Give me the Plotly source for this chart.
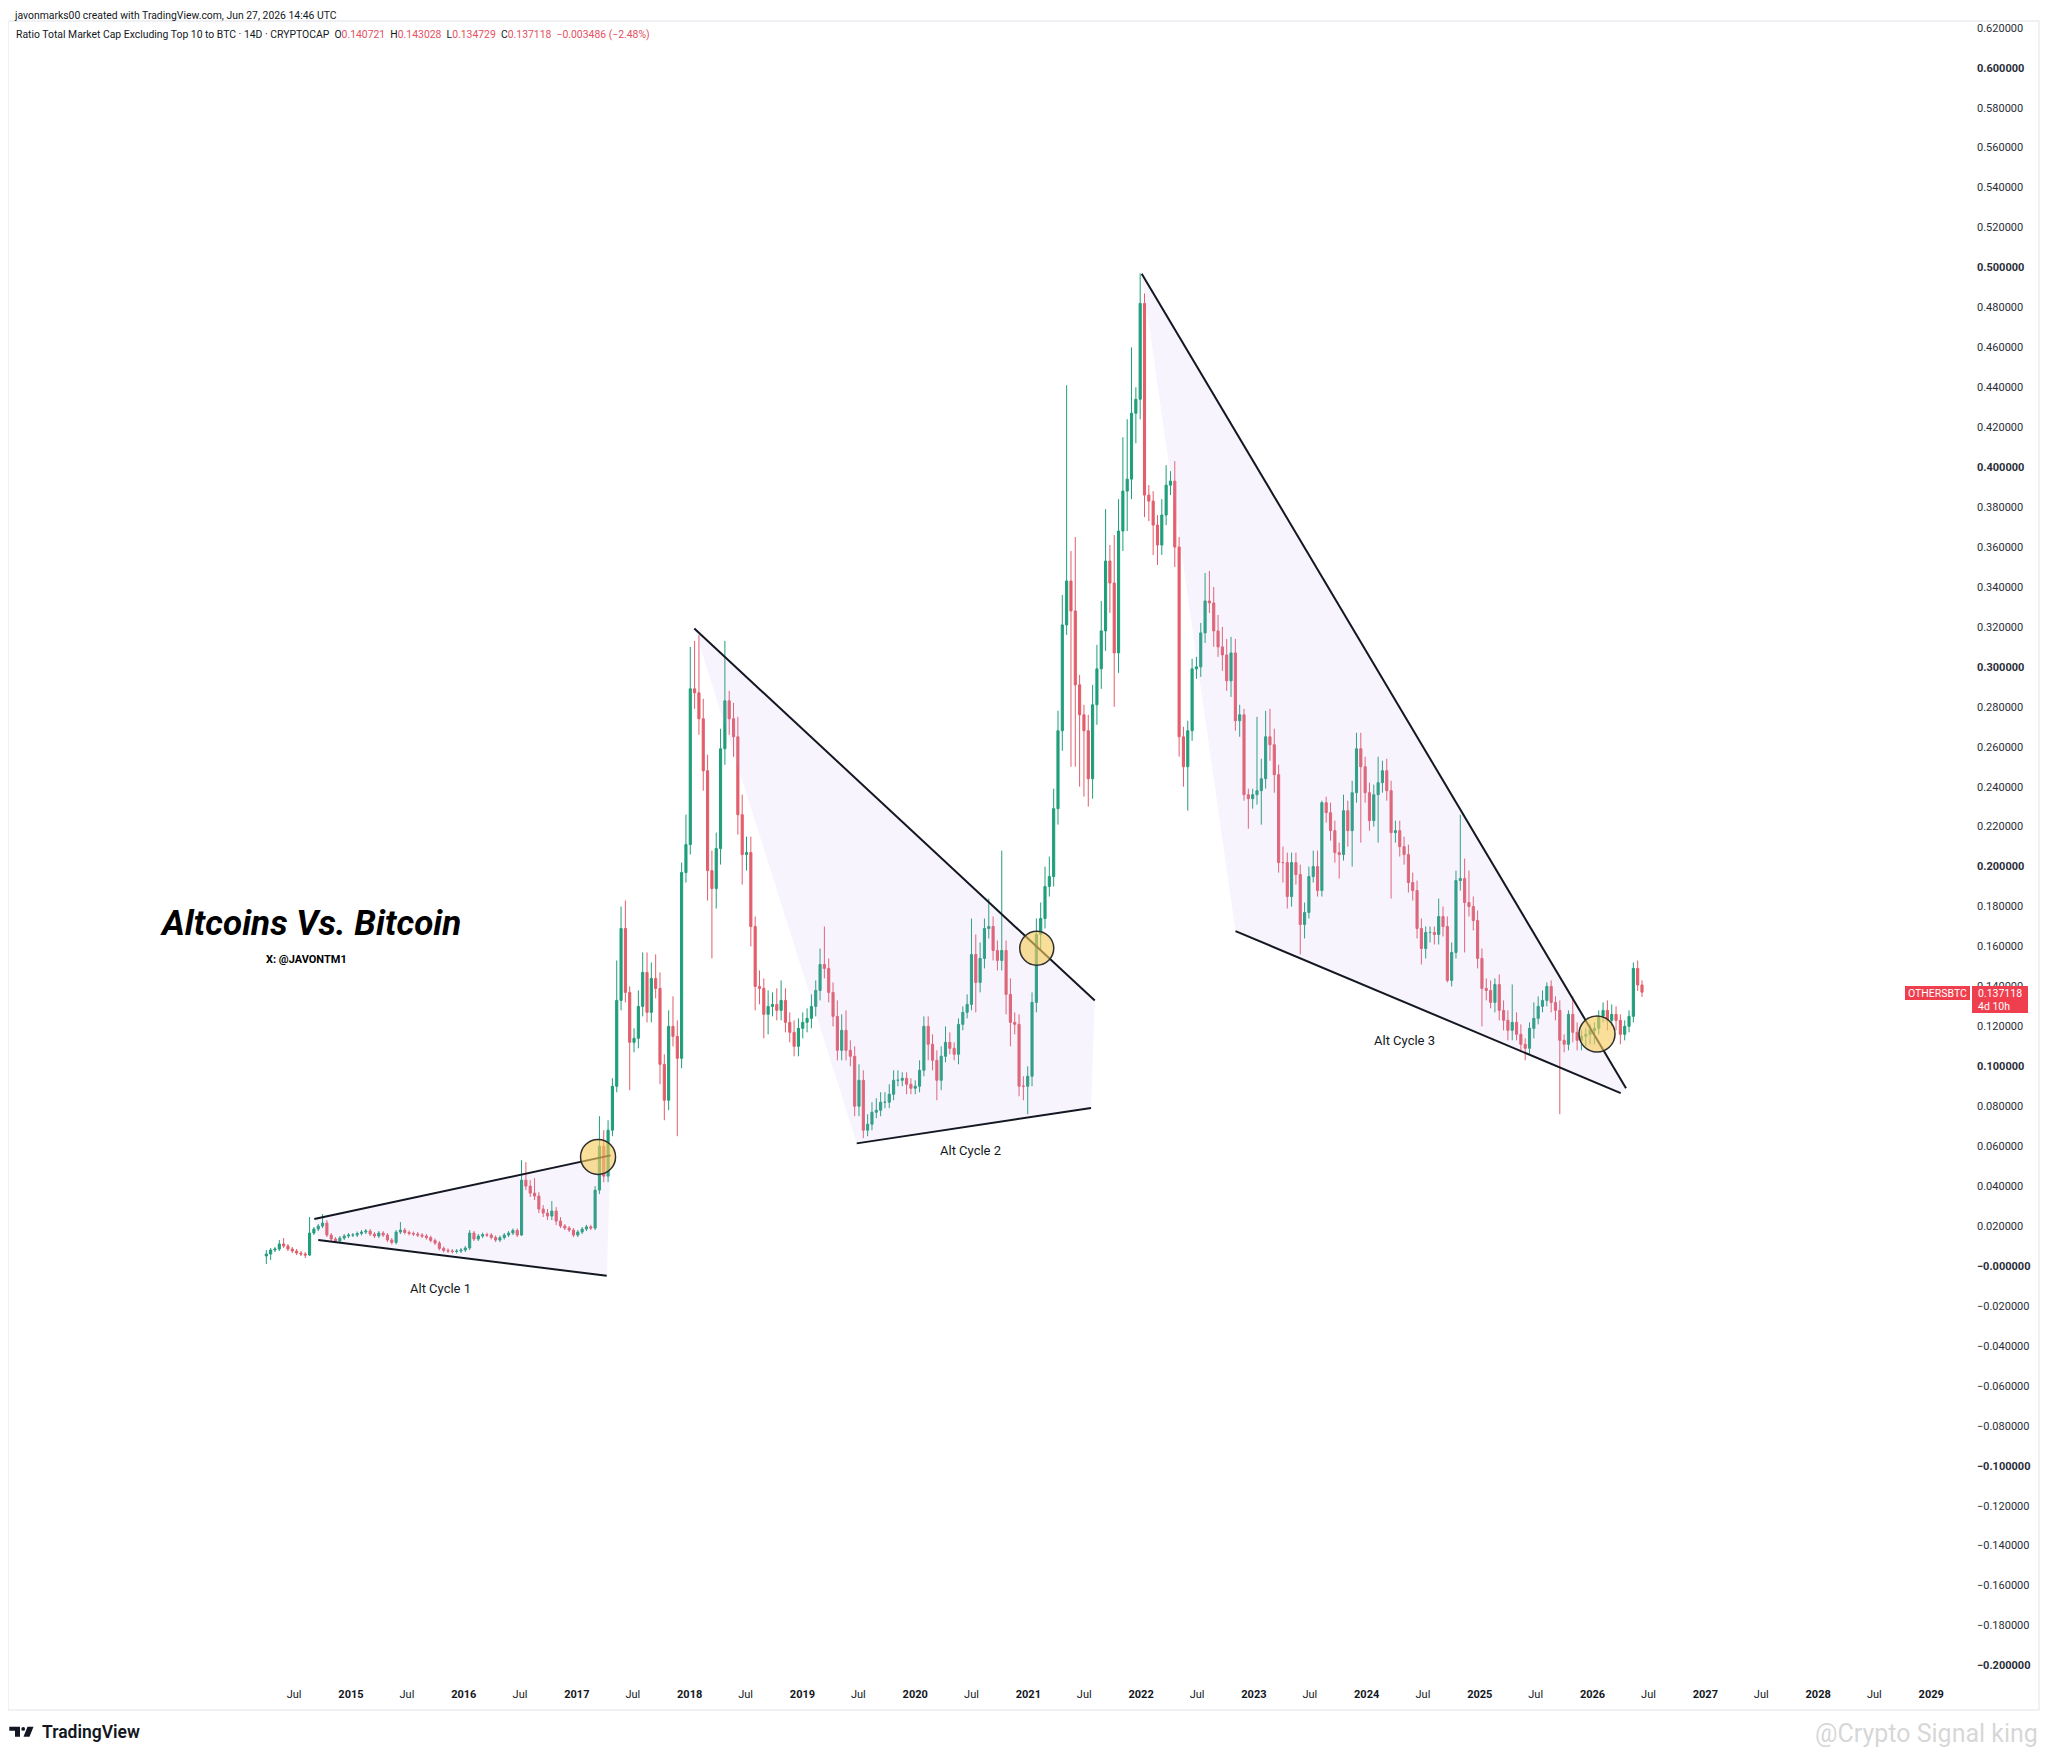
import plotly.graph_objects as go
import pandas as pd

# ---------------- data ----------------
FIRST_DATE = "2014-04-02"      # first 14D candle
FIRST_OPEN = 0.005
CLOSE = [
    .006, .008, .0085, .011, .010, .0085, .0075, .0065, .006, .0055,
    .0165, .0185, .020, .0215, .0155, .0135, .0125, .014, .015, .0155,
    .0155, .0163, .017, .0175, .016, .015, .0165, .0155, .013, .0118,
    .017, .018, .0168, .0163, .016, .0155, .015, .0142, .0128, .0115,
    .0088, .0078, .0075, .0073, .0075, .008, .009, .0165, .0135, .015,
    .0157, .0155, .0143, .013, .0142, .0155, .0165, .0178, .0155, .043,
    .040, .0365, .035, .0285, .0265, .025, .0275, .0225, .020, .019,
    .018, .0155, .017, .0185, .0196, .019, .038, .060, .045, .068,
    .090, .133, .169, .137, .112, .114, .130, .147, .127, .144,
    .139, .101, .083, .120, .115, .104, .197, .211, .289, .287,
    .274, .248, .198, .189, .209, .259, .283, .274, .265, .226,
    .206, .207, .170, .140, .139, .126, .130, .131, .128, .133,
    .122, .117, .110, .119, .122, .124, .130, .138, .151, .149,
    .137, .125, .108, .118, .108, .105, .080, .093, .068, .071,
    .077, .078, .082, .082, .086, .093, .093, .094, .091, .089,
    .090, .098, .120, .111, .103, .093, .105, .112, .109, .106,
    .121, .127, .131, .156, .142, .154, .169, .170, .158, .153,
    .158, .136, .122, .121, .090, .090, .095, .132, .166, .174,
    .190, .195, .229, .268, .321, .343, .328, .291, .276, .268,
    .244, .281, .299, .318, .353, .342, .307, .368, .388, .394,
    .427, .434, .482, .386, .383, .371, .361, .376, .391, .393,
    .360, .265, .250, .268, .299, .300, .317, .333, .332, .318,
    .310, .306, .293, .307, .273, .276, .236, .234, .236, .238,
    .244, .265, .261, .246, .202, .202, .185, .202, .196, .171,
    .177, .195, .200, .188, .232, .227, .218, .207, .206, .228,
    .218, .237, .259, .250, .237, .223, .236, .242, .248, .238,
    .217, .218, .210, .206, .192, .188, .169, .159, .167, .167,
    .166, .175, .170, .143, .157, .193, .194, .182, .180, .173,
    .154, .139, .138, .132, .141, .128, .123, .118, .122, .116,
    .111, .109, .119, .124, .130, .133, .140, .132, .128, .113,
    .111, .126, .117, .113, .115, .116, .118, .119, .125, .128,
    .123, .126, .123, .116, .120, .125, .149, .140721, .137118,
]
# wick lengths beyond the candle body, in units of 0.001
UP_WICK = [
    2, 1, 1, 2, 3, 1, 1, 1, 1, 1,
    8, 1, 1, 4.5, 1.5, 1, 1, 1, 1, 1,
    1, 1, 1, 1, 1, 1, 1, 1, 1, 1,
    1, 4, 1, 1, 1, 1, 1, 1, 1, 1,
    1, 1, 1, 1, 1, 1, 1, 1.5, 1, 1,
    1, 1, 1, 1, 1, 1, 1, 1, 1, 10,
    9, 3, 7.5, 2, 2, 2, 5, 2, 2, 1,
    1, 1, 1, 1, 1, 1, 2, 15, 8, 5,
    4, 20, 11, 14, 3, 5, 8, 10, 10, 8,
    12, 8, 5, 8, 15, 8, 5, 15, 21, 24,
    29, 10, 8, 10, 8, 10, 30, 5, 8, 10,
    10, 8, 8, 5, 8, 5, 8, 6, 8, 10,
    6, 5, 6, 5, 5, 5, 6, 5, 8, 19,
    5, 5, 8, 8, 10, 5, 5, 8, 5, 5,
    5, 6, 5, 5, 5, 5, 5, 3, 3, 3,
    3, 5, 5, 5, 5, 5, 5, 8, 5, 3,
    3, 3, 5, 18, 10, 8, 5, 14, 5, 5,
    50, 5, 8, 5, 5, 5, 5, 5, 8, 8,
    10, 10, 10, 10, 15, 98, 15, 37, 5, 5,
    8, 10, 12, 15, 26, 8, 24, 16, 27, 30,
    33, 6, 15, 5, 5, 5, 5, 8, 10, 5,
    10, 5, 5, 5, 5, 5, 5, 14, 15, 8,
    8, 10, 8, 8, 7, 5, 3, 3, 3, 37,
    10, 13, 14, 8, 5, 8, 5, 5, 5, 5,
    5, 5, 8, 8, 1, 3, 5, 5, 5, 8,
    5, 6, 8, 8, 5, 5, 5, 13, 5, 6,
    5, 5, 5, 5, 5, 5, 5, 5, 3, 3,
    3, 9, 5, 5, 5, 5, 32, 10, 16, 5,
    5, 5, 5, 5, 3, 5, 5, 5, 19, 5,
    5, 3, 3, 8, 5, 5, 2, 3, 3, 5,
    3, 2, 9, 5, 3, 3, 3, 3, 3, 4,
    5, 5, 4, 3, 3, 3, 3, 4, 2.307,
]
DN_WICK = [
    4, 3, 1, 1, 1, 1, 1, 1, 1, 1.5,
    0.5, 1, 1, 1, 1, 1, 1, 1, 1, 1,
    1, 1, 1, 1, 1, 1, 1, 1, 1, 1,
    1, 1, 1, 1, 1, 1, 1, 1, 1, 1,
    1, 1, 1, 1, 1, 1, 1, 1, 1, 1,
    1, 1, 1, 1, 1, 1, 1, 1, 1, 0.5,
    2, 2, 2, 2, 2, 2, 2, 2, 1, 1,
    1, 1, 1, 1, 1, 1, 1, 2, 3, 3,
    3, 3, 5, 5, 24, 5, 5, 5, 5, 5,
    5, 10, 10, 5, 5, 39, 5, 5, 5, 8,
    8, 10, 15, 35, 10, 8, 8, 8, 10, 10,
    15, 8, 10, 12, 8, 12, 10, 5, 5, 5,
    5, 5, 5, 5, 5, 5, 5, 5, 5, 5,
    5, 5, 5, 5, 5, 5, 5, 5, 4, 3,
    3, 3, 3, 3, 3, 3, 3, 3, 5, 3,
    3, 3, 3, 8, 5, 10, 5, 3, 3, 3,
    5, 3, 3, 3, 15, 5, 5, 5, 5, 5,
    5, 10, 12, 5, 5, 7, 14, 5, 5, 8,
    5, 5, 5, 8, 10, 5, 78, 41, 36, 33,
    14, 10, 10, 10, 10, 15, 27, 10, 10, 20,
    10, 15, 10, 11, 10, 15, 10, 5, 5, 5,
    10, 10, 10, 22, 5, 5, 5, 5, 5, 8,
    5, 8, 5, 8, 5, 8, 3, 15, 5, 5,
    17, 5, 8, 9, 5, 10, 6, 5, 5, 15,
    7, 3, 3, 3, 3, 5, 5, 5, 12, 3,
    8, 18, 5, 38, 5, 5, 3, 24, 5, 5,
    33, 5, 5, 5, 5, 5, 5, 8, 5, 5,
    5, 5, 5, 1, 3, 3, 5, 25, 5, 5,
    5, 19, 5, 3, 5, 5, 5, 5, 5, 3,
    4, 6, 3, 5, 3, 3, 3, 5, 5, 37,
    4, 3, 5, 5, 5, 5, 5, 7, 3, 3,
    5, 3, 5, 5, 3, 3, 3, 3, 2.389,
]

# header values
LAST_O, LAST_H, LAST_L, LAST_C = 0.140721, 0.143028, 0.134729, 0.137118
CHG, CHG_PCT = -0.003486, -2.48
TIME_LEFT = "4d 10h"

# drawings: (fractional year, value)
CYCLE1_UPPER = [(2014.675, 0.0235), (2017.30, 0.0554)]
CYCLE1_LOWER = [(2014.71, 0.0130), (2017.266, -0.0049)]
CYCLE2_UPPER = [(2018.042, 0.3192), (2021.59, 0.1329)]
CYCLE2_LOWER = [(2019.481, 0.0614), (2021.557, 0.0791)]
CYCLE3_UPPER = [(2022.006, 0.4969), (2026.297, 0.0890)]
CYCLE3_LOWER = [(2022.837, 0.1677), (2026.25, 0.0866)]
BREAKOUTS = [(2017.189, 0.0546), (2021.076, 0.1591), (2026.04, 0.1162)]
CYCLE_LABELS = [("Alt Cycle 1", 2015.79, -0.0115),
                ("Alt Cycle 2", 2020.488, 0.0578),
                ("Alt Cycle 3", 2024.33, 0.1127)]
YEARS = list(range(2014, 2030))

# ---------------- geometry helpers ----------------
W, H = 2048, 1757
OFF = 8                      # page body margin of the browser
PL, PR, PT, PB = 8, 1962, 21, 1686   # plot area in reference pixels
V_TOP, V_BOT = 0.6234, -0.2103
X_LEFT, X_RIGHT = 2011.961, 2029.274


def yd(f):
    return (pd.Timestamp("2015-01-01") + pd.to_timedelta((f - 2015) * 365.25, unit="D")).strftime("%Y-%m-%d %H:%M")


def pxx(px):
    return (px - PL) / (PR - PL)


def pyy(py):
    return (PB - py) / (PB - PT)


assert len(CLOSE) == len(UP_WICK) == len(DN_WICK), (len(CLOSE), len(UP_WICK), len(DN_WICK))

dates = pd.date_range(FIRST_DATE, periods=len(CLOSE), freq="14D")
opens = [FIRST_OPEN] + CLOSE[:-1]
highs = [max(o, c) + u / 1000 for o, c, u in zip(opens, CLOSE, UP_WICK)]
lows = [min(o, c) - d / 1000 for o, c, d in zip(opens, CLOSE, DN_WICK)]

GREEN = "#1f9e7a"
RED = "#e35d6a"
INK = "#131722"

fig = go.Figure()

# pattern fills
for up, lo in [(CYCLE1_UPPER, CYCLE1_LOWER), (CYCLE2_UPPER, CYCLE2_LOWER), (CYCLE3_UPPER, CYCLE3_LOWER)]:
    pts = [up[0], up[1], lo[1], lo[0], up[0]]
    fig.add_trace(go.Scatter(
        x=[yd(p[0]) for p in pts], y=[p[1] for p in pts],
        mode="lines", fill="toself", fillcolor="rgba(190,170,240,0.13)",
        line=dict(width=0), hoverinfo="skip"))

fig.add_trace(go.Candlestick(
    x=dates, open=opens, high=highs, low=lows, close=CLOSE,
    increasing=dict(line=dict(color=GREEN, width=1), fillcolor=GREEN),
    decreasing=dict(line=dict(color=RED, width=1), fillcolor=RED),
    whiskerwidth=0, hoverinfo="skip"))

for seg in [CYCLE1_UPPER, CYCLE1_LOWER, CYCLE2_UPPER, CYCLE2_LOWER, CYCLE3_UPPER, CYCLE3_LOWER]:
    fig.add_trace(go.Scatter(
        x=[yd(p[0]) for p in seg], y=[p[1] for p in seg],
        mode="lines", line=dict(color=INK, width=2), hoverinfo="skip"))

shapes = []
radii = [17.5, 17, 18]
for (fx, fv), r in zip(BREAKOUTS, radii):
    shapes.append(dict(type="circle", xref="x", yref="y", xsizemode="pixel", ysizemode="pixel",
                       xanchor=yd(fx), yanchor=fv, x0=-r, x1=r, y0=-r, y1=r,
                       fillcolor="rgba(246,204,92,0.62)", line=dict(color="#2f2f2f", width=1.5),
                       layer="above"))
# chart frame
shapes.append(dict(type="rect", xref="paper", yref="paper", x0=pxx(8), x1=pxx(2039), y0=pyy(1710), y1=pyy(21),
                   line=dict(color="#e0e3eb", width=1), fillcolor="rgba(0,0,0,0)", layer="below"))
# last price boxes
shapes.append(dict(type="rect", xref="paper", yref="paper", x0=pxx(1905), x1=pxx(1970), y0=pyy(1000), y1=pyy(986),
                   line=dict(width=0), fillcolor="#ef3f4f", layer="above"))
shapes.append(dict(type="rect", xref="paper", yref="paper", x0=pxx(1972), x1=pxx(2028), y0=pyy(1013), y1=pyy(986),
                   line=dict(width=0), fillcolor="#ef3f4f", layer="above"))


def ppath(points):
    return "M " + " L ".join(f"{pxx(a):.6f},{pyy(b):.6f}" for a, b in points) + " Z"


# TradingView logo mark (bar + dot + slash)
shapes.append(dict(type="path", xref="paper", yref="paper",
                   path=ppath([(9.3, 1726.7), (20, 1726.7), (20, 1736.7), (15, 1736.7), (15, 1730.7), (9.3, 1730.7)]),
                   fillcolor=INK, line=dict(width=0)))
shapes.append(dict(type="circle", xref="paper", yref="paper",
                   x0=pxx(21.3), x1=pxx(25.1), y0=pyy(1730.8), y1=pyy(1727),
                   fillcolor=INK, line=dict(width=0)))
shapes.append(dict(type="path", xref="paper", yref="paper",
                   path=ppath([(27.5, 1726.7), (33.5, 1726.7), (29.5, 1736.7), (23.5, 1736.7)]),
                   fillcolor=INK, line=dict(width=0)))

ann = []
for txt, fx, fv in CYCLE_LABELS:
    ann.append(dict(x=yd(fx), y=fv, xref="x", yref="y", text=txt, showarrow=False,
                    font=dict(size=13, color=INK, family="Roboto")))
ann.append(dict(x=pxx(310), y=pyy(923), xref="paper", yref="paper", text="<b><i>Altcoins Vs. Bitcoin</i></b>",
                showarrow=False, xanchor="center", yanchor="middle",
                font=dict(size=35, color="#000000", family="Roboto")))
ann.append(dict(x=pxx(306), y=pyy(959), xref="paper", yref="paper", text="<b>X: @JAVONTM1</b>",
                showarrow=False, xanchor="center", yanchor="middle",
                font=dict(size=11, color="#000000", family="Roboto")))
ann.append(dict(x=pxx(12), y=pyy(15), xref="paper", yref="paper",
                text="javonmarks00 created with TradingView.com, Jun 27, 2026 14:46 UTC",
                showarrow=False, xanchor="left", yanchor="middle",
                font=dict(size=10.4, color=INK, family="Roboto")))
rc = "#e4505f"
line2 = ("Ratio Total Market Cap Excluding Top 10 to BTC · 14D · CRYPTOCAP&nbsp;&nbsp;"
         f"O<span style='color:{rc}'>{LAST_O:.6f}</span>&nbsp;&nbsp;"
         f"H<span style='color:{rc}'>{LAST_H:.6f}</span>&nbsp;&nbsp;"
         f"L<span style='color:{rc}'>{LAST_L:.6f}</span>&nbsp;&nbsp;"
         f"C<span style='color:{rc}'>{LAST_C:.6f}</span>&nbsp;&nbsp;"
         f"<span style='color:{rc}'>−{abs(CHG):.6f} (−{abs(CHG_PCT):.2f}%)</span>")
ann.append(dict(x=pxx(14), y=pyy(35), xref="paper", yref="paper", text=line2,
                showarrow=False, xanchor="left", yanchor="middle",
                font=dict(size=10.4, color=INK, family="Roboto")))
ann.append(dict(x=pxx(1937.5), y=pyy(993), xref="paper", yref="paper", text="OTHERSBTC",
                showarrow=False, xanchor="center", yanchor="middle",
                font=dict(size=10.5, color="white", family="Roboto")))
ann.append(dict(x=pxx(1976), y=pyy(993), xref="paper", yref="paper", text=f"{LAST_C:.6f}",
                showarrow=False, xanchor="left", yanchor="middle",
                font=dict(size=10.5, color="white", family="Roboto")))
ann.append(dict(x=pxx(1976), y=pyy(1006), xref="paper", yref="paper", text=TIME_LEFT,
                showarrow=False, xanchor="left", yanchor="middle",
                font=dict(size=10.5, color="white", family="Roboto")))
ann.append(dict(x=pxx(40), y=pyy(1732), xref="paper", yref="paper", text="TradingView",
                showarrow=False, xanchor="left", yanchor="middle",
                font=dict(size=17.5, color=INK, family="Roboto", weight=600)))
ann.append(dict(x=pxx(2040), y=pyy(1734), xref="paper", yref="paper", text="@Crypto Signal king",
                showarrow=False, xanchor="right", yanchor="middle",
                font=dict(size=25, color="rgba(150,150,150,0.40)", family="Roboto")))

# axes ticks
xt_vals, xt_text = [], []
for y in YEARS:
    if y >= 2015:
        xt_vals.append(f"{y}-01-01")
        xt_text.append(f"<b>{y}</b>")
    if y <= 2028:
        xt_vals.append(f"{y}-07-01")
        xt_text.append("Jul")

yt_vals = [round(-0.2 + 0.02 * k, 2) for k in range(42)]
yt_text = []
for v in yt_vals:
    s = f"{abs(v):.6f}"
    s = ("−" + s) if v <= 0 else s
    if abs(round(v * 10) - v * 10) < 1e-9:
        s = f"<b>{s}</b>"
    yt_text.append(s)

fig.update_layout(
    width=W, height=H,
    margin=dict(l=PL - OFF, r=W - (PR - OFF), t=PT - OFF, b=H - (PB - OFF)),
    paper_bgcolor="white", plot_bgcolor="white",
    showlegend=False,
    font=dict(family="Roboto", color=INK),
    shapes=shapes, annotations=ann,
    xaxis=dict(type="date", range=[yd(X_LEFT), yd(X_RIGHT)], tickvals=xt_vals, ticktext=xt_text,
               showgrid=False, zeroline=False, showline=False, ticks="",
               tickfont=dict(size=11, color=INK), rangeslider=dict(visible=False)),
    yaxis=dict(side="right", range=[V_BOT, V_TOP], tickvals=yt_vals, ticktext=yt_text,
               showgrid=False, zeroline=False, showline=False, ticks="",
               tickfont=dict(size=11, color="#2a2e39"), ticklabelstandoff=14),
)

fig.write_html("out.html")
